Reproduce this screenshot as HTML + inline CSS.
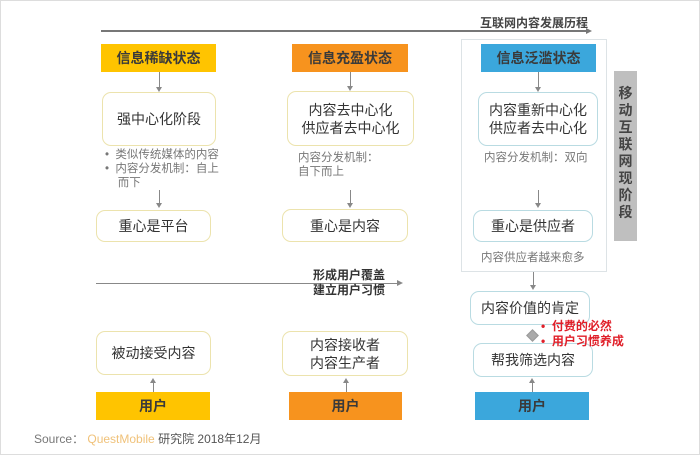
<!DOCTYPE html>
<html><head><meta charset="utf-8"><style>
body{margin:0;width:700px;height:455px;background:#fff;position:relative;overflow:hidden;font-family:"Liberation Sans","Noto Sans CJK SC",sans-serif;color:#333}
.a{position:absolute}
.hd{position:absolute;height:28px;line-height:28px;text-align:center;font-size:14px;font-weight:bold;color:#3a3a3a}
.bx{position:absolute;border:1.5px solid #ece3ad;border-radius:9px;box-sizing:border-box;display:flex;align-items:center;justify-content:center;text-align:center;font-size:14px;line-height:18px;color:#333;background:#fff}
.bl{border-color:#b9dbe2}
.vl{position:absolute;width:1px;background:#888}
.ad{position:absolute;width:0;height:0;border-left:3px solid transparent;border-right:3px solid transparent;border-top:5px solid #888}
.au{position:absolute;width:0;height:0;border-left:3px solid transparent;border-right:3px solid transparent;border-bottom:5px solid #888}
.sm{position:absolute;font-size:11.5px;color:#777;line-height:14px}
</style></head><body>
<div class="a" style="left:0;top:0;width:698px;height:453px;border:1px solid #ddd"></div>
<div class="a" style="left:101px;top:30px;width:486px;height:2px;background:#777"></div>
<div class="a" style="left:586px;top:28px;border-top:3px solid transparent;border-bottom:3px solid transparent;border-left:6px solid #777"></div>
<div class="a" style="left:480px;top:14px;font-size:12px;color:#444;font-weight:bold">互联网内容发展历程</div>
<div class="a" style="left:461px;top:39px;width:146px;height:233px;border:1px solid #dde3e6;box-sizing:border-box"></div>
<div class="a" style="left:614px;top:71px;width:23px;height:170px;background:#bfbfbf;font-size:14px;font-weight:bold;color:#444;text-align:center;line-height:17px;padding-top:14px;box-sizing:border-box">移<br>动<br>互<br>联<br>网<br>现<br>阶<br>段</div>
<div class="hd" style="left:101px;top:44px;width:115px;background:#ffc400">信息稀缺状态</div>
<div class="hd" style="left:292px;top:44px;width:116px;background:#f7931e">信息充盈状态</div>
<div class="hd" style="left:481px;top:44px;width:115px;background:#3ba7dc">信息泛滥状态</div>
<div class="vl" style="left:159px;top:72px;height:16px"></div><div class="ad" style="left:156px;top:87px"></div>
<div class="vl" style="left:350px;top:72px;height:15px"></div><div class="ad" style="left:347px;top:86px"></div>
<div class="vl" style="left:538px;top:72px;height:16px"></div><div class="ad" style="left:535px;top:87px"></div>
<div class="bx" style="left:102px;top:92px;width:114px;height:54px">强中心化阶段</div>
<div class="bx" style="left:287px;top:91px;width:127px;height:55px">内容去中心化<br>供应者去中心化</div>
<div class="bx bl" style="left:478px;top:92px;width:120px;height:54px">内容重新中心化<br>供应者去中心化</div>
<div class="sm" style="left:105px;top:148px">•&nbsp;&nbsp;类似传统媒体的内容<br>•&nbsp;&nbsp;内容分发机制：自上<br>&nbsp;&nbsp;&nbsp;&nbsp;而下</div>
<div class="sm" style="left:298px;top:151px">内容分发机制：<br>自下而上</div>
<div class="sm" style="left:484px;top:151px">内容分发机制：双向</div>
<div class="vl" style="left:159px;top:190px;height:14px"></div><div class="ad" style="left:156px;top:203px"></div>
<div class="vl" style="left:350px;top:190px;height:14px"></div><div class="ad" style="left:347px;top:203px"></div>
<div class="vl" style="left:538px;top:190px;height:14px"></div><div class="ad" style="left:535px;top:203px"></div>
<div class="bx" style="left:96px;top:210px;width:115px;height:32px">重心是平台</div>
<div class="bx" style="left:282px;top:209px;width:126px;height:33px">重心是内容</div>
<div class="bx bl" style="left:473px;top:210px;width:120px;height:32px">重心是供应者</div>
<div class="sm" style="left:481px;top:251px">内容供应者越来愈多</div>
<div class="a" style="left:96px;top:283px;width:302px;height:1px;background:#888"></div>
<div class="a" style="left:397px;top:280px;border-top:3px solid transparent;border-bottom:3px solid transparent;border-left:6px solid #888"></div>
<div class="a" style="left:313px;top:268px;font-size:12px;line-height:15px;color:#333;font-weight:bold">形成用户覆盖<br>建立用户习惯</div>
<div class="vl" style="left:533px;top:272px;height:14px"></div><div class="ad" style="left:530px;top:285px"></div>
<div class="bx bl" style="left:470px;top:291px;width:120px;height:34px">内容价值的肯定</div>
<div class="a" style="left:528px;top:331px;width:7px;height:7px;background:#aaa;transform:rotate(45deg);border:1px solid #999"></div>
<div class="bx bl" style="left:473px;top:343px;width:120px;height:34px">帮我筛选内容</div>
<div class="a" style="left:541px;top:319px;font-size:12px;line-height:15px;color:#e0202a;font-weight:bold;z-index:5">•&nbsp;&nbsp;付费的必然<br>•&nbsp;&nbsp;用户习惯养成</div>
<div class="bx" style="left:96px;top:331px;width:115px;height:44px">被动接受内容</div>
<div class="bx" style="left:282px;top:331px;width:126px;height:45px">内容接收者<br>内容生产者</div>
<div class="au" style="left:150px;top:378px"></div><div class="vl" style="left:153px;top:382px;height:10px"></div>
<div class="au" style="left:343px;top:378px"></div><div class="vl" style="left:346px;top:382px;height:10px"></div>
<div class="au" style="left:529px;top:378px"></div><div class="vl" style="left:532px;top:382px;height:10px"></div>
<div class="hd" style="left:96px;top:392px;width:114px;background:#ffc400">用户</div>
<div class="hd" style="left:289px;top:392px;width:113px;background:#f7931e">用户</div>
<div class="hd" style="left:475px;top:392px;width:114px;background:#3ba7dc">用户</div>
<div class="a" style="left:34px;top:430px;font-size:12px;color:#777">Source：&nbsp;<span style="color:#f0c27a">QuestMobile</span> <span style="color:#555">研究院 2018年12月</span></div>
</body></html>
